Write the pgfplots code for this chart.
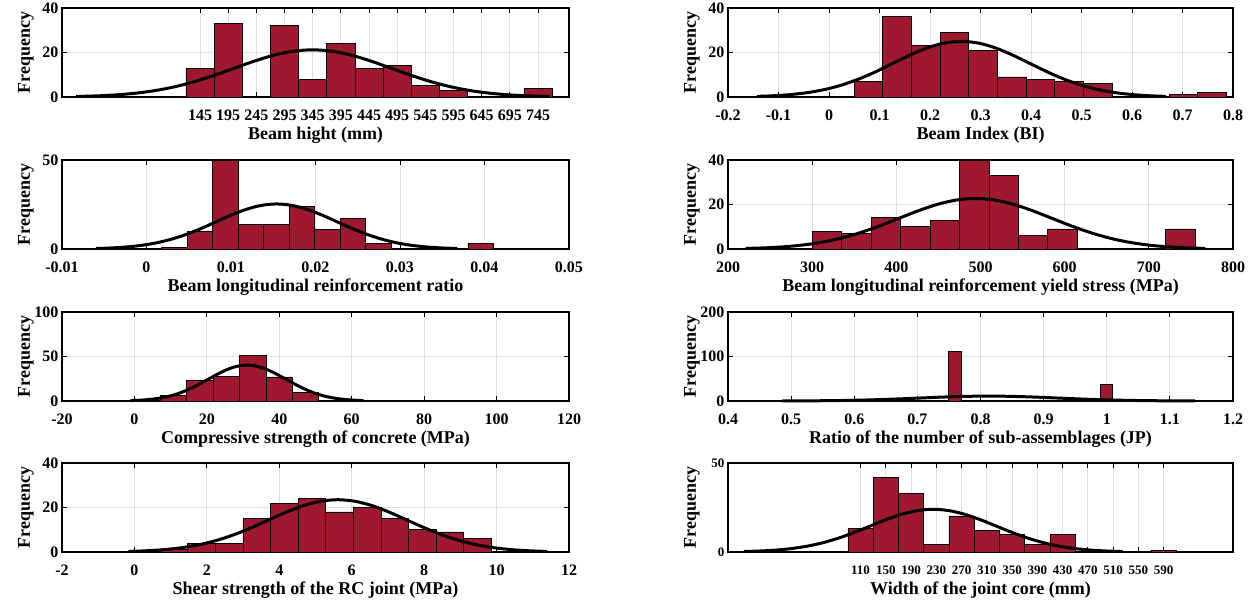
\documentclass[border=0pt]{standalone}
\usepackage{fontspec}
\setmainfont{Liberation Serif}
\usepackage{pgfplots}
\pgfplotsset{compat=1.18}
\definecolor{barred}{RGB}{158,24,48}
\pgfplotsset{
  histo/.style={
    scale only axis, height=89pt, anchor=south west,
    axis line style={line width=1.2pt},
    tick align=inside, xtick pos=both, ytick pos=both,
    xticklabel pos=lower, yticklabel pos=left,
    major tick length=5pt, tick style={black, line width=0.8pt},
    grid=major, grid style={black!12, line width=0.8pt},
    ymin=0, clip=false,
    scaled x ticks=false, scaled y ticks=false,
    /pgf/number format/assume math mode=true,
    tick label style={font=\fontsize{16}{16}\selectfont\bfseries},
    every axis x label/.style={at={(axis description cs:0.5,0)}, yshift=-38pt,
      anchor=center, font=\fontsize{18}{18}\selectfont\bfseries},
    every axis y label/.style={at={(axis description cs:0,0.5)}, xshift=-36pt,
      rotate=90, anchor=center, font=\fontsize{18}{18}\selectfont\bfseries},
    xticklabel style={anchor=center, yshift=-18pt},
    ylabel={Frequency},
  },
  bars/.style={ybar, bar width=#1, fill=barred, draw=black, line width=0.8pt},
  fit/.style={black, line width=3pt, smooth},
}
\begin{document}
\begin{tikzpicture}
\useasboundingbox (0pt,0pt) rectangle (1255pt,602pt);

% row 1, left
\begin{axis}[histo, at={(62pt,505pt)}, width=507pt,
  xmin=-100, xmax=800, ymax=40, ytick={0,20,40},
  xtick={145,195,245,295,345,395,445,495,545,595,645,695,745},
  xticklabels={145,195,245,295,345,395,445,495,545,595,645,695,745},
  xlabel={Beam hight (mm)}]
\addplot[bars=50] coordinates {(145,13) (195,33) (295,32) (345,8) (395,24) (445,13) (495,14) (545,5) (595,3) (745,4)};
\addplot[fit] coordinates {(-75,0.235) (-40,0.483) (-5,0.931) (30,1.688) (65,2.868) (100,4.586) (135,6.884) (170,9.705) (205,12.858) (240,16.002) (275,18.709) (310,20.547) (345,21.2) (380,20.547) (415,18.709) (450,16.002) (485,12.858) (520,9.705) (555,6.884) (590,4.586) (625,2.868) (660,1.688) (695,0.931) (730,0.483) (765,0.235)};
\end{axis}

% row 1, right
\begin{axis}[histo, at={(728pt,505pt)}, width=505pt,
  xmin=-0.2, xmax=0.8, ymax=40, ytick={0,20,40},
  xtick={-0.2,-0.1,0,0.1,0.2,0.3,0.4,0.5,0.6,0.7,0.8},
  xticklabels={-0.2,-0.1,0,0.1,0.2,0.3,0.4,0.5,0.6,0.7,0.8},
  xlabel={Beam Index (BI)}]
\addplot[bars=0.0567] coordinates {(0.0783,7) (0.135,36) (0.1917,23) (0.2484,29) (0.3051,21) (0.3618,9) (0.4185,8) (0.4752,7) (0.5319,6) (0.702,1) (0.7587,2)};
\addplot[fit] coordinates {(-0.143,0.278) (-0.1093,0.57) (-0.0755,1.098) (-0.0418,1.99) (-0.008,3.383) (0.0258,5.408) (0.0595,8.118) (0.0933,11.445) (0.127,15.163) (0.1608,18.87) (0.1945,22.063) (0.2283,24.23) (0.262,25) (0.2958,24.23) (0.3295,22.063) (0.3633,18.87) (0.397,15.163) (0.4308,11.445) (0.4645,8.118) (0.4983,5.408) (0.532,3.383) (0.5658,1.99) (0.5995,1.098) (0.6333,0.57) (0.667,0.278)};
\end{axis}

% row 2, left
\begin{axis}[histo, at={(62pt,353pt)}, width=507pt,
  xmin=-0.01, xmax=0.05, ymax=50, ytick={0,50},
  xtick={-0.01,0,0.01,0.02,0.03,0.04,0.05},
  xticklabels={-0.01,0,0.01,0.02,0.03,0.04,0.05},
  xlabel={Beam longitudinal reinforcement ratio}]
\addplot[bars=0.00302] coordinates {(0.00331,1) (0.00633,10) (0.00935,50) (0.01237,14) (0.01539,14) (0.01841,24) (0.02143,11) (0.02445,17) (0.02747,3) (0.03955,3)};
\addplot[fit] coordinates {(-0.00599,0.281) (-0.00421,0.577) (-0.00243,1.111) (-0.00064,2.014) (0.00114,3.423) (0.00292,5.472) (0.00471,8.215) (0.00649,11.582) (0.00827,15.344) (0.01005,19.096) (0.01184,22.327) (0.01362,24.521) (0.0154,25.3) (0.01718,24.521) (0.01897,22.327) (0.02075,19.096) (0.02253,15.344) (0.02431,11.582) (0.0261,8.215) (0.02788,5.472) (0.02966,3.423) (0.03144,2.014) (0.03323,1.111) (0.03501,0.577) (0.03679,0.281)};
\end{axis}

% row 2, right
\begin{axis}[histo, at={(728pt,353pt)}, width=505pt,
  xmin=200, xmax=800, ymax=40, ytick={0,20,40},
  xtick={200,300,400,500,600,700,800},
  xticklabels={200,300,400,500,600,700,800},
  xlabel={Beam longitudinal reinforcement yield stress (MPa)}]
\addplot[bars=35] coordinates {(317.5,8) (352.5,7) (387.5,14) (422.5,10) (457.5,13) (492.5,40) (527.5,33) (562.5,6) (597.5,9) (737.5,9)};
\addplot[fit] coordinates {(221,0.252) (243.75,0.518) (266.5,0.997) (289.25,1.807) (312,3.071) (334.75,4.91) (357.5,7.371) (380.25,10.392) (403,13.768) (425.75,17.134) (448.5,20.033) (471.25,22.001) (494,22.7) (516.75,22.001) (539.5,20.033) (562.25,17.134) (585,13.768) (607.75,10.392) (630.5,7.371) (653.25,4.91) (676,3.071) (698.75,1.807) (721.5,0.997) (744.25,0.518) (767,0.252)};
\end{axis}

% row 3, left
\begin{axis}[histo, at={(62pt,201pt)}, width=507pt,
  xmin=-20, xmax=120, ymax=100, ytick={0,50,100},
  xtick={-20,0,20,40,60,80,100,120},
  xticklabels={-20,0,20,40,60,80,100,120},
  xlabel={Compressive strength of concrete (MPa)}]
\addplot[bars=7.31] coordinates {(3.415,1) (10.725,6) (18.035,23) (25.345,28) (32.655,51) (39.965,27) (47.275,10) (54.585,1) (98.445,1)};
\addplot[fit] coordinates {(-1.09,0.447) (1.5925,0.919) (4.275,1.769) (6.9575,3.208) (9.64,5.453) (12.3225,8.717) (15.005,13.085) (17.6875,18.449) (20.37,24.442) (23.0525,30.418) (25.735,35.565) (28.4175,39.059) (31.1,40.3) (33.7825,39.059) (36.465,35.565) (39.1475,30.418) (41.83,24.442) (44.5125,18.449) (47.195,13.085) (49.8775,8.717) (52.56,5.453) (55.2425,3.208) (57.925,1.769) (60.6075,0.919) (63.29,0.447)};
\end{axis}

% row 3, right
\begin{axis}[histo, at={(728pt,201pt)}, width=505pt,
  xmin=0.4, xmax=1.2, ymax=200, ytick={0,100,200},
  xtick={0.4,0.5,0.6,0.7,0.8,0.9,1,1.1,1.2},
  xticklabels={0.4,0.5,0.6,0.7,0.8,0.9,1,1.1,1.2},
  xlabel={Ratio of the number of sub-assemblages (JP)}]
\addplot[bars=0.0195] coordinates {(0.7595,111) (0.9995,38)};
\addplot[fit] coordinates {(0.486,0.122) (0.51325,0.251) (0.5405,0.483) (0.56775,0.876) (0.595,1.488) (0.62225,2.379) (0.6495,3.572) (0.67675,5.036) (0.704,6.672) (0.73125,8.303) (0.7585,9.708) (0.78575,10.661) (0.813,11) (0.84025,10.661) (0.8675,9.708) (0.89475,8.303) (0.922,6.672) (0.94925,5.036) (0.9765,3.572) (1.00375,2.379) (1.031,1.488) (1.05825,0.876) (1.0855,0.483) (1.11275,0.251) (1.14,0.122)};
\end{axis}

% row 4, left
\begin{axis}[histo, at={(62pt,50pt)}, width=507pt,
  xmin=-2, xmax=12, ymax=40, ytick={0,20,40},
  xtick={-2,0,2,4,6,8,10,12},
  xticklabels={-2,0,2,4,6,8,10,12},
  xlabel={Shear strength of the RC joint (MPa)}]
\addplot[bars=0.762] coordinates {(1.091,1) (1.853,4) (2.615,4) (3.377,15) (4.139,22) (4.901,24) (5.663,18) (6.425,20) (7.187,15) (7.949,10) (8.711,9) (9.473,6)};
\addplot[fit] coordinates {(-0.169,0.261) (0.313,0.536) (0.795,1.032) (1.277,1.871) (1.759,3.18) (2.241,5.083) (2.723,7.63) (3.205,10.758) (3.687,14.253) (4.169,17.738) (4.651,20.739) (5.133,22.776) (5.615,23.5) (6.097,22.776) (6.579,20.739) (7.061,17.738) (7.543,14.253) (8.025,10.758) (8.507,7.63) (8.989,5.083) (9.471,3.18) (9.953,1.871) (10.435,1.032) (10.917,0.536) (11.399,0.261)};
\end{axis}

% row 4, right
\begin{axis}[histo, at={(728pt,50pt)}, width=505pt,
  xmin=-100, xmax=700, ymax=50, ytick={0,50},
  tick label style={font=\fontsize{13}{13}\selectfont\bfseries},
  xtick={110,150,190,230,270,310,350,390,430,470,510,550,590},
  xticklabels={110,150,190,230,270,310,350,390,430,470,510,550,590},
  xlabel={Width of the joint core (mm)}]
\addplot[bars=40] coordinates {(110,13) (150,42) (190,33) (230,4) (270,20) (310,12) (350,10) (390,4) (430,10) (590,1)};
\addplot[fit] coordinates {(-75,0.266) (-50,0.547) (-25,1.054) (0,1.91) (25,3.247) (50,5.191) (75,7.793) (100,10.987) (125,14.556) (150,18.115) (175,21.18) (200,23.261) (225,24) (250,23.261) (275,21.18) (300,18.115) (325,14.556) (350,10.987) (375,7.793) (400,5.191) (425,3.247) (450,1.91) (475,1.054) (500,0.547) (525,0.266)};
\end{axis}
\end{tikzpicture}
\end{document}
